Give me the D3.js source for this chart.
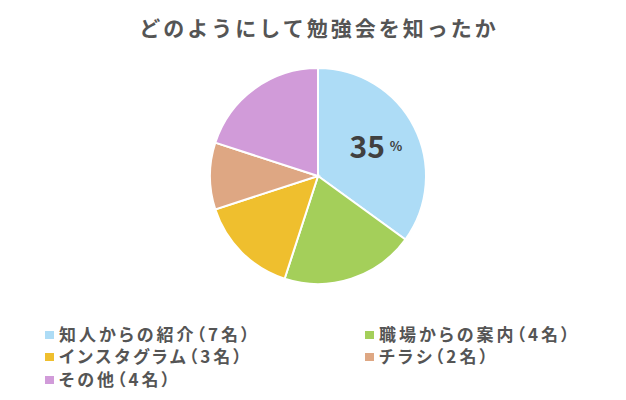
<!DOCTYPE html>
<html>
<head>
<meta charset="utf-8">
<script src="https://cdn.jsdelivr.net/npm/d3@7"></script>
<style>
  body { margin: 0; background: #fff; }
  text { font-family: "Noto Sans CJK JP", "Noto Sans", sans-serif; }
  .legend text { font-feature-settings: "palt"; }
</style>
</head>
<body>
<div id="chart"></div>
<script>
const categories = ['知人からの紹介', '職場からの案内', 'インスタグラム', 'チラシ', 'その他'];
const counts = [7, 4, 3, 2, 4];
const colors = ['#addcf6', '#a4cf5a', '#efbf2e', '#dea783', '#d19bd9'];

const width = 626;
const height = 400;
const cx = 318;
const cy = 176;
const radius = 108;

const svg = d3.select('#chart')
  .append('svg')
  .attr('width', width)
  .attr('height', height);

svg.append('text')
  .attr('x', cx + 1)
  .attr('y', 36)
  .attr('text-anchor', 'middle')
  .attr('font-size', 21)
  .attr('font-weight', 'bold')
  .attr('letter-spacing', 3)
  .attr('fill', '#555')
  .text('どのようにして勉強会を知ったか');

const total = d3.sum(counts);
const pie = d3.pie().sort(null).value((d) => d);
const arcs = pie(counts);
const arc = d3.arc().innerRadius(0).outerRadius(radius);

const g = svg.append('g')
  .attr('transform', `translate(${cx}, ${cy})`);

g.selectAll('path')
  .data(arcs)
  .enter()
  .append('path')
  .attr('d', arc)
  .attr('fill', (d, i) => colors[i])
  .attr('stroke', '#fff')
  .attr('stroke-width', 2);

// percentage label on the first slice only
const labelArc = d3.arc().innerRadius(radius * 0.55).outerRadius(radius * 0.55);
const first = arcs[0];
const [lx, ly] = labelArc.centroid(first);
const pct = Math.round(first.value / total * 100);
const label = g.append('text')
  .attr('x', lx + 5)
  .attr('y', ly + 9)
  .attr('text-anchor', 'middle')
  .attr('fill', '#404040')
  .attr('font-family', 'Roboto, sans-serif')
  .attr('font-weight', 'bold');
label.append('tspan')
  .attr('font-size', 30)
  .text(pct);
label.append('tspan')
  .attr('font-size', 13)
  .attr('dx', 5)
  .attr('dy', -7)
  .text('%');

// legend
const legendX = [45, 365];
const legendY = [335, 357, 380];
const legend = svg.selectAll('.legend')
  .data(categories)
  .enter()
  .append('g')
  .attr('class', 'legend')
  .attr('transform', (d, i) => `translate(${legendX[i % 2]}, ${legendY[Math.floor(i / 2)]})`);

legend.append('rect')
  .attr('x', 0)
  .attr('y', -4)
  .attr('width', 9)
  .attr('height', 8)
  .attr('fill', (d, i) => colors[i]);

legend.append('text')
  .attr('x', 14)
  .attr('y', 6)
  .attr('font-size', 17)
  .attr('font-weight', 'bold')
  .attr('letter-spacing', 3)
  .attr('fill', '#555')
  .text((d, i) => `${d}（${counts[i]}名）`);
</script>
</body>
</html>
